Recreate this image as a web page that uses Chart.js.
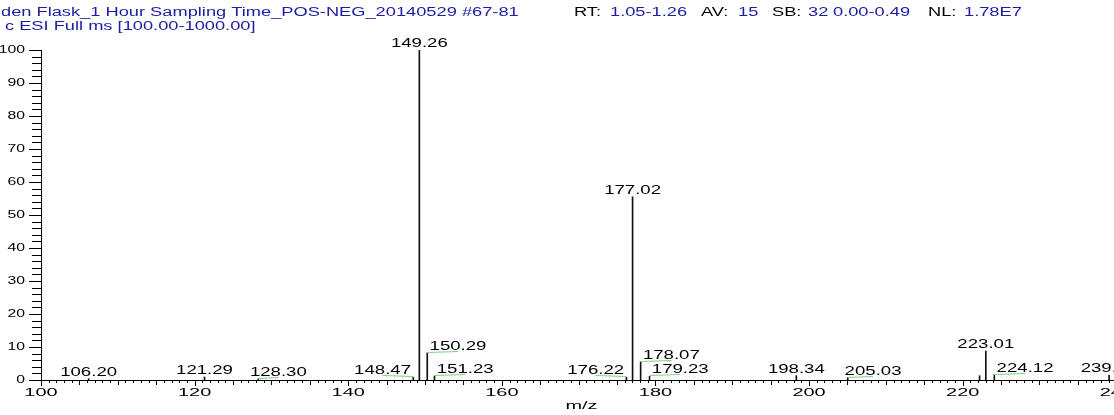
<!DOCTYPE html>
<html>
<head>
<meta charset="utf-8">
<script src="https://cdn.jsdelivr.net/npm/chart.js@4.4.1/dist/chart.umd.min.js"></script>
<style>
  html, body { margin: 0; padding: 0; background: #fff; }
  #wrap { width: 1114px; height: 415px; position: relative; }
</style>
</head>
<body>
<div id="wrap"><canvas id="spectrum"></canvas></div>
<script>
// ─── Spectrum data ──────────────────────────────────────
const peakMz = [106.20, 121.29, 128.30, 148.47, 149.26, 150.29, 151.23, 176.22, 177.02,
                178.07, 179.23, 198.34, 205.03, 222.20, 223.01, 224.12, 239.06];
const peakIntensity = [0.4, 0.9, 0.4, 0.8, 100, 8.2, 1.2, 0.8, 55.5,
                       5.5, 1.1, 1.3, 0.7, 1.3, 8.8, 1.6, 1.4];
const peakLabels = ['106.20', '121.29', '128.30', '148.47', '149.26', '150.29', '151.23', '176.22', '177.02',
                    '178.07', '179.23', '198.34', '205.03', '', '223.01', '224.12', '239.06'];
const xTickLabels = [100, 120, 140, 160, 180, 200, 220, 240];
const yTickLabels = [0, 10, 20, 30, 40, 50, 60, 70, 80, 90, 100];

// label placement (m/z offset of each label from its peak)
const labelShift = [0, 0, 2.6, -4, 0, 4, 4, -4, 0, 4, 4, 0, 3.3, 0, 0, 4, 0];

const FONT = '"Liberation Sans", Arial, Helvetica, sans-serif';
const BLUE = '#1c1ca4';
const LEADER = '#7fd07f';

function wideText(ctx, str, x, y, size, sx, align, color, baseline) {
  ctx.save();
  ctx.font = size + 'px ' + FONT;
  ctx.fillStyle = color;
  ctx.textAlign = align || 'left';
  ctx.textBaseline = baseline || 'alphabetic';
  ctx.translate(x, y);
  ctx.scale(sx, 1);
  ctx.fillText(str, 0, 0);
  ctx.restore();
}

// ─── Header, ticks and peak annotations ─────────────────
const spectrumDecor = {
  id: 'spectrumDecor',
  afterDraw(chart) {
    const { ctx, chartArea, scales } = chart;
    const xs = scales.x, ys = scales.y;
    const { left, right, bottom } = chartArea;

    // header lines
    const head = [
      ['den Flask_1 Hour Sampling Time_POS-NEG_20140529 #67-81', 1, BLUE],
      ['RT:', 574, '#000'], ['1.05-1.26', 610, BLUE],
      ['AV:', 701, '#000'], ['15', 738, BLUE],
      ['SB:', 772, '#000'], ['32', 808, BLUE], ['0.00-0.49', 833, BLUE],
      ['NL:', 928, '#000'], ['1.78E7', 964, BLUE],
    ];
    head.forEach(([t, x, c]) => wideText(ctx, t, x, 16, 12.5, 1.46, 'left', c));
    wideText(ctx, 'c ESI Full ms [100.00-1000.00]', 5, 30, 12.5, 1.46, 'left', BLUE);

    ctx.save();
    ctx.strokeStyle = '#000';
    ctx.lineWidth = 1;

    // y ticks: minor every 2, major every 10
    for (let v = 0; v <= 100; v += 2) {
      const y = Math.round(ys.getPixelForValue(v)) + 0.5;
      const len = v % 10 === 0 ? 12 : 9;
      ctx.beginPath();
      ctx.moveTo(left - len, y);
      ctx.lineTo(left, y);
      ctx.stroke();
    }
    // x ticks: minor every 1, medium every 5, major every 20
    for (let v = 100; v <= xs.max; v += 1) {
      const x = Math.round(xs.getPixelForValue(v)) + 0.5;
      const len = v % 20 === 0 ? 6 : (v % 5 === 0 ? 5 : 3);
      ctx.beginPath();
      ctx.moveTo(x, bottom);
      ctx.lineTo(x, bottom + len);
      ctx.stroke();
    }
    ctx.restore();

    yTickLabels.forEach(v => {
      wideText(ctx, String(v), 25, ys.getPixelForValue(v), 10.5, 1.5, 'right', '#000', 'middle');
    });
    xTickLabels.forEach(v => {
      wideText(ctx, String(v), xs.getPixelForValue(v), 396, 10.5, 1.9, 'center', '#000');
    });
    wideText(ctx, 'm/z', (left + right) / 2 + 4, 409, 10.5, 1.9, 'center', '#000');

    // peak labels with leader lines
    peakMz.forEach((mz, i) => {
      const txt = peakLabels[i];
      if (!txt) return;
      const px = xs.getPixelForValue(mz);
      const py = ys.getPixelForValue(peakIntensity[i]);
      const lx = xs.getPixelForValue(mz + labelShift[i]);
      if (labelShift[i] !== 0) {
        ctx.save();
        ctx.strokeStyle = LEADER;
        ctx.lineWidth = 1;
        ctx.beginPath();
        ctx.moveTo(px, Math.round(py) - 0.5);
        ctx.lineTo(lx, Math.round(py) - 1.5);
        ctx.stroke();
        ctx.restore();
      }
      wideText(ctx, txt, lx, py - 3, 12, 1.55, 'center', '#000');
    });
  },
};

new Chart(document.getElementById('spectrum'), {
  type: 'bar',
  data: {
    datasets: [{
      data: peakMz.map((mz, i) => ({ x: mz, y: peakIntensity[i] })),
      backgroundColor: '#111',
      borderWidth: 0,
      barThickness: 1,
    }],
  },
  options: {
    responsive: true,
    maintainAspectRatio: false,
    animation: false,
    layout: { padding: { top: 50, left: 0, right: 0, bottom: 0 } },
    plugins: { legend: { display: false }, tooltip: { enabled: false } },
    scales: {
      x: {
        type: 'linear',
        min: 100,
        max: 239.7,
        offset: false,
        grid: { display: false },
        ticks: { display: false },
        border: { color: '#000', width: 1 },
        afterFit: s => { s.height = 35; },
      },
      y: {
        min: 0,
        max: 100,
        grid: { display: false },
        ticks: { display: false },
        border: { color: '#000', width: 1 },
        afterFit: s => { s.width = 41; },
      },
    },
  },
  plugins: [spectrumDecor],
});
</script>
</body>
</html>
